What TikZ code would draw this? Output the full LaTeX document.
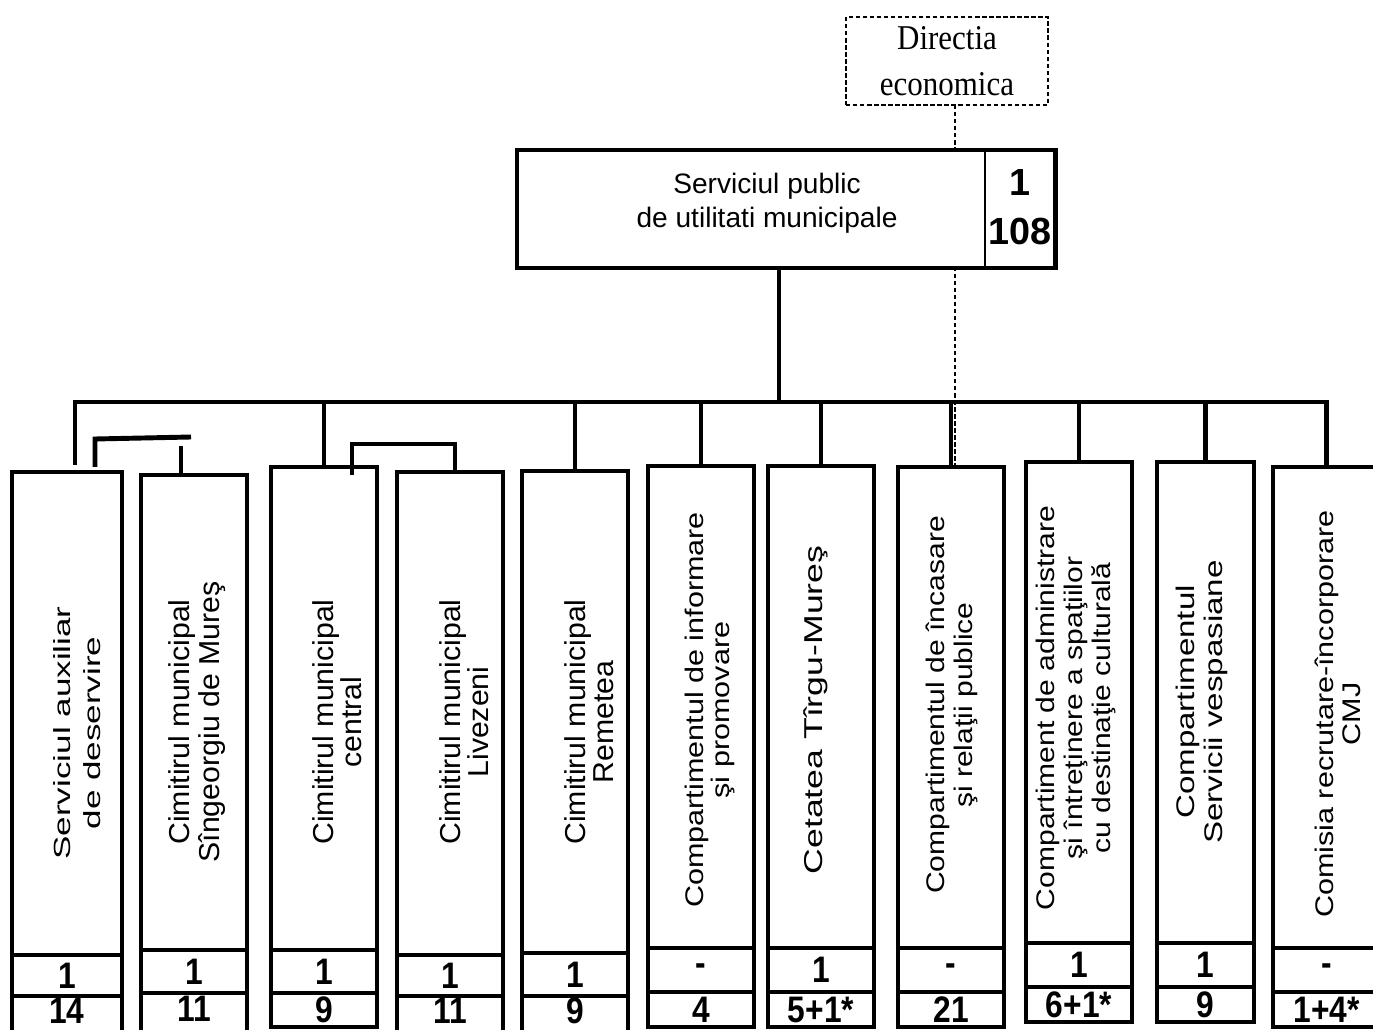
\documentclass[tikz,border=0pt]{standalone}
\usepackage{graphicx}
\usepackage{fontspec}
\setmainfont{Liberation Sans}
\newfontfamily\dirfont{Liberation Serif}

\tikzset{
	link/.style={line width=2.8pt},
	dashlink/.style={line width=1.3pt, dash pattern=on 2.5pt off 1.5pt},
	unitbox/.style={draw, line width=2.8pt, fill=white, inner sep=0pt, outer sep=0pt, anchor=north west},
	cellbox/.style={unitbox, font=\bfseries\fontsize{21}{21}\selectfont},
	unittext/.style={rotate=90, transform shape, align=center, inner sep=0pt},
	dirbox/.style={draw, dashlink, fill=white, align=center, inner sep=0pt, outer sep=0pt,
		font=\dirfont\fontsize{19.8}{26}\selectfont}
}

\begin{document}
\begin{tikzpicture}[x=0.02cm, y=-0.02cm]
	\useasboundingbox (0,0) rectangle (1373,1030);

	% compartments
	\foreach \n/\xl/\xr/\yt/\ya/\yb/\yc/\tx/\ty/\fs/\bs/\sx/\txt/\na/\nb in {
		1/12/122/472/955/996/1034/77/733/13.3/17/1.5/{Serviciul auxiliar\\de deservire}/1/14,
		2/141/247/475/950/993/1034/197/722/16.4/17/1.05/{Cimitirul municipal\\Sîngeorgiu de Mureş}/1/11,
		3/271/377/467/950/993/1027/337/722/16.4/16/1.05/{Cimitirul municipal\\central}/1/9,
		4/397/503/472/955/996/1034/464/722/16.4/16/1.05/{Cimitirul municipal\\Livezeni}/1/11,
		5/522/628/471/953/996/1034/589/722/16.4/16/1.05/{Cimitirul municipal\\Remetea}/1/9,
		6/648/754/466/948/992/1027/710/710/14.5/15/1.2/{Compartimentul de informare\\şi promovare}/-/4,
		7/768/874/466/948/992/1027/816/710/14.7/16/1.38/{Cetatea Tîrgu-Mureş}/1/{5+1*},
		8/898/1004/467/948/992/1027/952/705/14.5/16/1.18/{Compartimentul de încasare\\şi relaţii publice}/-/21,
		9/1026/1132/462/943/987/1022/1076/708/14.5/16/1.18/{Compartiment de administrare\\şi întreţinere a spaţiilor\\cu destinaţie culturală}/1/{6+1*},
		10/1157/1254/462/943/987/1022/1202/702/14.5/15.5/1.3/{Compartimentul\\Servicii vespasiane}/1/9,
		11/1273/1380/467/948/992/1027/1338/714/14.5/15.5/1.2/{Comisia recrutare-încorporare\\CMJ}/-/{1+4*}}
	{
		\pgfmathsetmacro\w{(\xr-\xl)*0.02}
		\pgfmathsetmacro\ha{(\ya-\yt)*0.02}
		\pgfmathsetmacro\hb{(\yb-\ya)*0.02}
		\pgfmathsetmacro\hc{(\yc-\yb)*0.02}
		\pgfmathsetmacro\lift{\yc>1030 ? 5 : 0}
		\node[unitbox, minimum width=\w cm, minimum height=\ha cm] (u\n) at (\xl,\yt) {};
		\node[cellbox, minimum width=\w cm, minimum height=\hb cm] (m\n) at (\xl,\ya) {\scalebox{0.86}[1]{\na}};
		\node[cellbox, minimum width=\w cm, minimum height=\hc cm] (k\n) at (\xl,\yb)
			{\raisebox{\lift pt}{\scalebox{0.86}[1]{\nb}}};
		\node[unittext, xscale=\sx, font=\fontsize{\fs}{\bs}\selectfont] (t\n) at (\tx,\ty) {\txt};
	}

	% directia economica
	\node[dirbox, minimum width=4.04cm, minimum height=1.76cm] (de) at (947,61)
		{\scalebox{0.89}[1]{Directia}\\\scalebox{0.89}[1]{economica}};
	\coordinate (ec) at ([shift={(4,0)}]u8.north);
	\draw[dashlink] (de.south -| ec) -- (ec);

	% serviciul public
	\node[unitbox, minimum width=10.78cm, minimum height=2.36cm] (sp) at (517,150) {};
	\draw[line width=1.2pt] (985,150) -- (985,268);
	\node[align=center, font=\fontsize{16}{19.3}\selectfont] (sptext) at (767,203)
		{Serviciul public\\de utilitati municipale};
	\node[align=center, font=\bfseries\fontsize{21.5}{27.8}\selectfont] (spnum) at (1020,207) {1\\108};

	% links
	\coordinate (hub) at (779,402);
	\draw[link] (sp.south -| hub) -- (hub);
	\draw[link] ([shift={(8,-7)}]u1.north) |- (hub) -| (u11.north);
	\foreach \n in {3,5,6,7,8,9,10}
		\draw[link] (u\n.north) -- (u\n.north |- hub);
	\draw[link] ([shift={(28,-5)}]u1.north) -- ++(0,-28) -- ++(96,-2);
	\draw[link] ([shift={(-13,0)}]u2.north) -- ++(0,-29);
	\draw[link] ([shift={(28,8)}]u3.north) -- ++(0,-31) -| ([shift={(5,0)}]u4.north);
\end{tikzpicture}
\end{document}
